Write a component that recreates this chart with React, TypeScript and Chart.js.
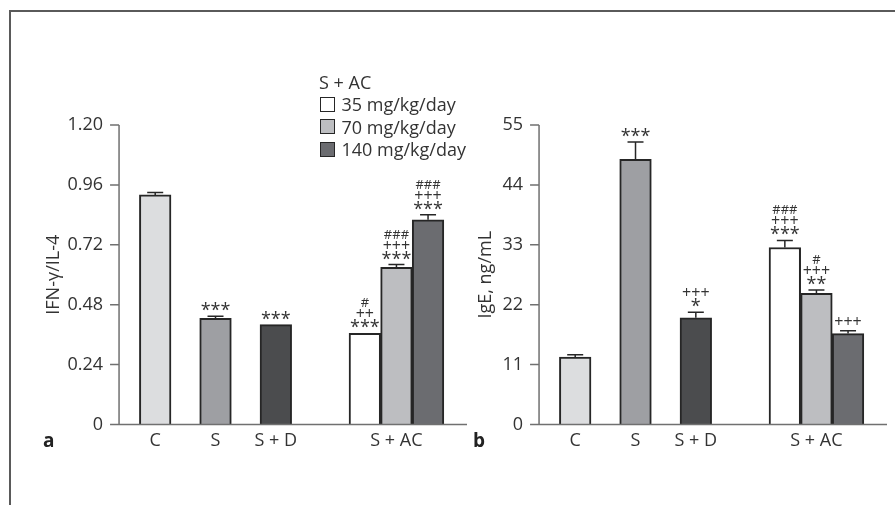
import React, { useEffect, useRef } from 'react';
import { Chart, registerables } from 'chart.js';

Chart.register(...registerables);

// ---------- data ----------
const mainGroups = ['C', 'S', 'S + D'];
const acGroupLabel = 'S + AC';
const acDoses = ['35 mg/kg/day', '70 mg/kg/day', '140 mg/kg/day'];

const ratioMain = [0.92, 0.425, 0.4];
const ratioMainErr = [0.01, 0.009, 0];
const ratioAC = [0.365, 0.63, 0.82];
const ratioACErr = [0, 0.011, 0.02];
const ratioMainMarks = [[], ['***'], ['***']];
const ratioACMarks = [['#', '++', '***'], ['###', '+++', '***'], ['###', '+++', '***']];
const ratioTicks = [0, 0.24, 0.48, 0.72, 0.96, 1.2];
const ratioTickLabels = ['0', '0.24', '0.48', '0.72', '0.96', '1.20'];

const igeMain = [12.4, 48.7, 19.6];
const igeMainErr = [0.4, 3.2, 1.0];
const igeAC = [32.5, 24.1, 16.7];
const igeACErr = [1.3, 0.6, 0.5];
const igeMainMarks = [[], ['***'], ['+++', '*']];
const igeACMarks = [['###', '+++', '***'], ['#', '+++', '**'], ['+++']];
const igeTicks = [0, 11, 22, 33, 44, 55];
const igeTickLabels = ['0', '11', '22', '33', '44', '55'];

// ---------- styles ----------
const W = 895;
const H = 505;
const FONT = '"Open Sans", "Noto Sans", sans-serif';
const TEXT = '#333333';
const AXIS = '#707070';
const mainColors = ['#dcdddf', '#9e9fa3', '#4b4c4e'];
const acColors = ['#ffffff', '#bdbec1', '#6b6c70'];
const BAR_BORDER = '#262626';
const BAR_W = 31.6;
const AREA_TOP = 125;
const AREA_BOTTOM = 424.5;
const X_H = 40;
const AXIS_GAP = 6;
const AXIS_EXT = 40.4;
const TICK_LEN = 9;
const CAP_W = 16;
const MARK_SIZES: Record<string, number> = { '*': 18, '+': 16, '#': 13 };
const MARK_GAP = 9.5;
const MARK_LINE = 10.5;

type Panel = {
  main: number[]; mainErr: number[]; mainMarks: string[][];
  ac: number[]; acErr: number[]; acMarks: string[][];
  ticks: number[]; tickLabels: string[]; title: string;
  areaLeft: number; areaRight: number; yWidth: number;
};

const categories = [...mainGroups, '', acGroupLabel];

function makeChart(canvas: HTMLCanvasElement, p: Panel) {
  const nCat = categories.length;
  const mainData = [...p.main, ...Array(nCat - p.main.length).fill(null)];
  const datasets: any[] = [
    {
      label: 'groups',
      data: mainData,
      backgroundColor: [...mainColors, 'transparent', 'transparent'],
    },
    ...p.ac.map((v, k) => ({
      label: acDoses[k],
      data: [...Array(nCat - 1).fill(null), v],
      backgroundColor: acColors[k],
    })),
  ];
  const errs: (number | null)[][] = [
    [...p.mainErr, ...Array(nCat - p.mainErr.length).fill(null)],
    ...p.acErr.map((e) => [...Array(nCat - 1).fill(null), e]),
  ];
  const marks: string[][][] = [
    [...p.mainMarks, ...Array(nCat - p.mainMarks.length).fill([])],
    ...p.acMarks.map((m) => [...Array(nCat - 1).fill([]), m]),
  ];

  const decor = {
    id: 'panelDecor',
    afterDatasetsDraw(chart: any) {
      const ctx = chart.ctx;
      const y = chart.scales.y;
      const area = chart.chartArea;
      chart.data.datasets.forEach((ds: any, di: number) => {
        const meta = chart.getDatasetMeta(di);
        meta.data.forEach((bar: any, i: number) => {
          const v = ds.data[i];
          if (v == null) return;
          const e = errs[di][i] ?? 0;
          const topPx = y.getPixelForValue(v + e);
          ctx.save();
          ctx.strokeStyle = BAR_BORDER;
          ctx.lineWidth = 1.5;
          if (e > 0) {
            ctx.beginPath();
            ctx.moveTo(bar.x, bar.y);
            ctx.lineTo(bar.x, topPx);
            ctx.moveTo(bar.x - CAP_W / 2, topPx);
            ctx.lineTo(bar.x + CAP_W / 2, topPx);
            ctx.stroke();
          }
          const lines = marks[di][i] || [];
          ctx.fillStyle = TEXT;
          ctx.textAlign = 'center';
          ctx.textBaseline = 'alphabetic';
          for (let k = 0; k < lines.length; k++) {
            const txt = lines[lines.length - 1 - k];
            ctx.font = `${MARK_SIZES[txt[0]] ?? 16}px ${FONT}`;
            const cy = topPx - MARK_GAP - k * MARK_LINE;
            const m = ctx.measureText(txt);
            const base = cy + (m.actualBoundingBoxAscent - m.actualBoundingBoxDescent) / 2;
            ctx.fillText(txt, bar.x, base);
          }
          ctx.restore();
        });
      });
      // axes
      const ax = area.left - AXIS_GAP;
      ctx.save();
      ctx.strokeStyle = AXIS;
      ctx.lineWidth = 1.5;
      ctx.beginPath();
      ctx.moveTo(ax, y.getPixelForValue(p.ticks[p.ticks.length - 1]));
      ctx.lineTo(ax, area.bottom);
      ctx.moveTo(ax - 0.75, area.bottom);
      ctx.lineTo(area.right + AXIS_EXT, area.bottom);
      p.ticks.forEach((t) => {
        const py = y.getPixelForValue(t);
        ctx.moveTo(ax - TICK_LEN, py);
        ctx.lineTo(ax, py);
      });
      ctx.stroke();
      ctx.restore();
    },
  };

  return new Chart(canvas, {
    type: 'bar',
    data: { labels: categories, datasets },
    plugins: [decor],
    options: {
      responsive: false,
      animation: false,
      layout: {
        padding: {
          left: p.areaLeft - p.yWidth,
          right: W - p.areaRight,
          top: AREA_TOP,
          bottom: H - AREA_BOTTOM - X_H,
        },
      },
      plugins: { legend: { display: false }, tooltip: { enabled: false } },
      datasets: {
        bar: {
          barThickness: BAR_W,
          skipNull: true,
          grouped: true,
          borderWidth: 2,
          borderColor: BAR_BORDER,
          clip: false,
        },
      },
      scales: {
        x: {
          type: 'category',
          offset: true,
          grid: { display: false, drawTicks: false },
          border: { display: false },
          ticks: {
            color: TEXT,
            font: { family: FONT, size: 18 },
            padding: 6,
            maxRotation: 0,
            autoSkip: false,
          },
          afterFit: (s: any) => { s.height = X_H; },
        },
        y: {
          min: 0,
          max: p.ticks[p.ticks.length - 1],
          grid: { display: false, drawTicks: false },
          border: { display: false },
          ticks: {
            color: TEXT,
            font: { family: FONT, size: 18 },
            padding: 22,
            callback: (v: any) => p.tickLabels[p.ticks.indexOf(v)] ?? '',
          },
          afterBuildTicks: (s: any) => { s.ticks = p.ticks.map((value) => ({ value })); },
          afterFit: (s: any) => { s.width = p.yWidth; },
          title: {
            display: true,
            text: p.title,
            color: TEXT,
            font: { family: FONT, size: 18 },
            padding: 0,
          },
        },
      },
    } as any,
  });
}

const leftPanel: Panel = {
  main: ratioMain, mainErr: ratioMainErr, mainMarks: ratioMainMarks,
  ac: ratioAC, acErr: ratioACErr, acMarks: ratioACMarks,
  ticks: ratioTicks, tickLabels: ratioTickLabels, title: 'IFN-γ/IL-4',
  areaLeft: 125.05, areaRight: 426.6, yWidth: 81.85,
};
const rightPanel: Panel = {
  main: igeMain, mainErr: igeMainErr, mainMarks: igeMainMarks,
  ac: igeAC, acErr: igeACErr, acMarks: igeACMarks,
  ticks: igeTicks, tickLabels: igeTickLabels, title: 'IgE, ng/mL',
  areaLeft: 545.05, areaRight: 846.6, yWidth: 69.85,
};

export default function App() {
  const leftRef = useRef<HTMLCanvasElement>(null);
  const rightRef = useRef<HTMLCanvasElement>(null);

  useEffect(() => {
    const a = makeChart(leftRef.current!, leftPanel);
    const b = makeChart(rightRef.current!, rightPanel);
    return () => { a.destroy(); b.destroy(); };
  }, []);

  const canvasStyle: React.CSSProperties = { position: 'absolute', left: 0, top: 0, width: W, height: H };
  const panelLetter: React.CSSProperties = {
    position: 'absolute', top: 429.5, fontFamily: FONT, fontWeight: 700, fontSize: 19,
    lineHeight: '20px', color: '#222',
  };

  return (
    <div style={{ position: 'fixed', left: 0, top: 0, width: W, height: H, background: '#fff', overflow: 'hidden' }}>
      <div style={{ position: 'absolute', left: 9, top: 10, right: -5, bottom: -5, borderTop: '2px solid #5a5a5a', borderLeft: '2px solid #5a5a5a' }} />
      <canvas ref={leftRef} width={W} height={H} style={canvasStyle} />
      <canvas ref={rightRef} width={W} height={H} style={canvasStyle} />
      <div style={{ ...panelLetter, left: 43 }}>a</div>
      <div style={{ ...panelLetter, left: 473 }}>b</div>
      <div style={{ position: 'absolute', left: 319, top: 70.6, fontFamily: FONT, fontSize: 18, lineHeight: '22.5px', color: TEXT, whiteSpace: 'nowrap' }}>
        <div>{acGroupLabel}</div>
        {acDoses.map((d, k) => (
          <div key={d} style={{ display: 'flex', alignItems: 'center', height: 22.5 }}>
            <span style={{ display: 'inline-block', boxSizing: 'border-box', width: 15, height: 15, marginLeft: 1, marginRight: 6.5, border: `1.5px solid ${BAR_BORDER}`, background: acColors[k] }} />
            <span>{d}</span>
          </div>
        ))}
      </div>
    </div>
  );
}
